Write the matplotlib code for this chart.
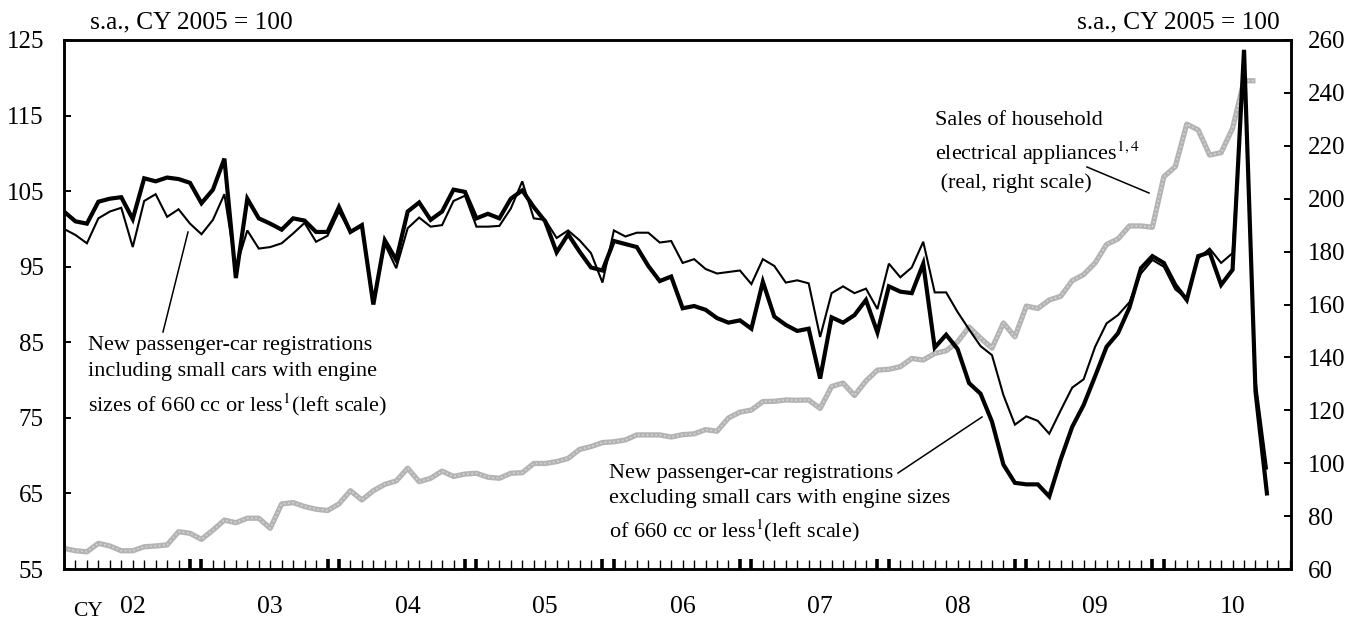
import numpy as np
import matplotlib
matplotlib.use("Agg")
import matplotlib.pyplot as plt

plt.rcParams['font.family'] = ['Liberation Serif', 'DejaVu Serif']
plt.rcParams['mathtext.fontset'] = 'stix'

# ---------------- data (monthly, Jan 2002 onward) ----------------
years = ["02", "03", "04", "05", "06", "07", "08", "09", "10"]

cars_excl = [102.3, 101.0, 100.7, 103.6, 104.0, 104.2, 101.3, 106.7, 106.3, 106.8, 106.6, 106.1,
             103.4, 105.2, 109.3, 93.5, 104.0, 101.4, 100.7, 99.9, 101.4, 101.1, 99.6, 99.6,
             102.9, 99.6, 100.5, 90.0, 98.5, 95.9, 102.3, 103.5, 101.2, 102.3, 105.2, 104.9,
             101.4, 102.0, 101.4, 104.0, 105.1, 102.9, 101.0, 96.9, 99.3, 97.0, 94.9, 94.5,
             98.4, 98.0, 97.6, 95.1, 93.1, 93.7, 89.5, 89.8, 89.3, 88.2, 87.6, 87.9,
             86.8, 93.0, 88.4, 87.3, 86.5, 86.8, 80.2, 88.3, 87.6, 88.6, 90.6, 86.3,
             92.4, 91.7, 91.5, 95.4, 84.3, 86.0, 84.1, 79.6, 78.2, 74.5, 68.8, 66.4,
             66.2, 66.2, 64.6, 69.5, 73.8, 76.7, 80.5, 84.4, 86.2, 89.6, 94.8, 96.4,
             95.5, 92.6, 90.6, 96.4, 96.9, 92.6, 94.6, 123.7, 78.5, 65.0]

cars_incl = [100.0, 99.2, 98.1, 101.4, 102.3, 102.8, 97.6, 103.7, 104.6, 101.6, 102.6, 100.7,
             99.3, 101.2, 104.6, 94.8, 99.8, 97.4, 97.6, 98.1, 99.4, 100.8, 98.3, 99.1,
             102.3, 99.6, 100.3, 90.5, 98.0, 94.8, 100.1, 101.5, 100.3, 100.5, 103.7, 104.4,
             100.3, 100.3, 100.4, 102.7, 106.3, 101.4, 101.2, 98.8, 99.8, 98.5, 96.8, 92.9,
             99.8, 99.0, 99.5, 99.5, 98.2, 98.4, 95.5, 96.0, 94.7, 94.1, 94.3, 94.5,
             92.7, 96.0, 95.1, 92.9, 93.2, 92.8, 85.7, 91.5, 92.4, 91.5, 92.1, 89.4,
             95.4, 93.6, 94.9, 98.3, 91.6, 91.6, 89.0, 86.7, 84.5, 83.3, 78.0, 74.1,
             75.2, 74.6, 72.9, 76.0, 79.0, 80.1, 84.4, 87.5, 88.6, 90.3, 94.1, 95.9,
             95.0, 92.0, 90.8, 96.1, 97.4, 95.5, 96.8, 122.5, 80.0, 68.3]

appliances = [67.8, 66.9, 66.5, 69.7, 68.7, 66.9, 66.9, 68.4, 68.7, 69.1, 74.1, 73.5,
              71.2, 74.7, 78.5, 77.5, 79.2, 79.2, 75.4, 84.6, 85.1, 83.6, 82.6, 82.1,
              84.6, 89.6, 86.1, 89.6, 92.0, 93.3, 98.1, 93.0, 94.3, 97.0, 95.0, 95.9,
              96.2, 94.7, 94.3, 96.2, 96.4, 99.9, 99.9, 100.6, 101.8, 105.2, 106.3, 107.8,
              108.1, 108.8, 110.7, 110.7, 110.7, 109.9, 110.8, 111.1, 112.7, 112.1, 117.1, 119.3,
              120.1, 123.3, 123.4, 123.9, 123.8, 123.9, 120.7, 129.0, 130.3, 125.6, 131.1, 135.2,
              135.5, 136.5, 139.6, 139.0, 141.5, 142.5, 145.9, 151.5, 147.3, 143.5, 153.0, 147.8,
              159.4, 158.5, 161.7, 163.1, 169.0, 171.3, 175.7, 182.7, 184.8, 189.7, 189.7, 189.2,
              208.3, 212.1, 228.2, 226.0, 216.5, 217.4, 226.6, 244.6, 244.6]

left_ticks = [55, 65, 75, 85, 95, 105, 115, 125]
right_ticks = [60, 80, 100, 120, 140, 160, 180, 200, 220, 240, 260]

# ---------------- figure ----------------
W, H = 1361, 619
fig = plt.figure(figsize=(W / 100, H / 100), dpi=100)
L, R, T, B = 64, 1291, 40, 569
ax = fig.add_axes([L / W, 1 - B / H, (R - L) / W, (B - T) / H])
ax2 = ax.twinx()

x_excl = np.arange(len(cars_excl))
x_incl = np.arange(len(cars_incl))
x_app = np.arange(len(appliances))

n_months = 12 * len(years)
ax.set_xlim(0, n_months - 0.9)
ax.set_ylim(left_ticks[0], left_ticks[-1])
ax2.set_ylim(right_ticks[0], right_ticks[-1])

# lines
ax.set_zorder(ax2.get_zorder() + 1)
ax.patch.set_visible(False)
ax2.plot(x_app, appliances, color='#b3b3b3', lw=3.8, solid_capstyle='butt', zorder=2)
ax2.plot(x_app, appliances, color='#d6d6d6', lw=1.2, linestyle=(0, (1, 1.6)), zorder=3)
ax.plot(x_incl, cars_incl, color='black', lw=1.5, zorder=2, solid_joinstyle='miter')
ax.plot(x_excl, cars_excl, color='black', lw=3.0, zorder=3, solid_joinstyle='miter')

# spines
for a in (ax, ax2):
    for s in a.spines.values():
        s.set_linewidth(1.8)

# y ticks
ax.set_yticks(left_ticks)
ax.tick_params(axis='y', direction='in', length=5, width=1.4, pad=14.5, labelsize=18)
ax2.set_yticks(right_ticks)
ax2.tick_params(axis='y', direction='in', length=5, width=1.4, pad=12, labelsize=18)

# x ticks: every month (minor), bold around year boundaries (major)
months = np.arange(0, n_months)
bold = [m for k in range(1, len(years)) for m in (12 * k - 1, 12 * k)]
ax.set_xticks(bold)
ax.set_xticklabels([])
ax.set_xticks(months, minor=True)
ax.tick_params(axis='x', which='major', direction='in', length=7, width=2.6)
ax.tick_params(axis='x', which='minor', direction='in', length=6.5, width=1.0)
ax2.tick_params(axis='x', which='both', bottom=False, top=False)

# year labels
tr = ax.get_xaxis_transform()
for k, yl in enumerate(years):
    ax.text(12 * k + 6, -0.072, yl, transform=tr, ha='center', va='center', fontsize=18.5)
ax.text(0.0195, -0.080, 'CY', transform=ax.transAxes, ha='center', va='center', fontsize=15.5)

# headers
def fx(px):
    return (px - L) / (R - L)

def fy(py):
    return (B - py) / (B - T)

ax.text(fx(90), fy(22), 's.a., CY 2005 = 100', transform=ax.transAxes,
        ha='left', va='center', fontsize=18.3, clip_on=False)
ax.text(fx(1280), fy(22), 's.a., CY 2005 = 100', transform=ax.transAxes,
        ha='right', va='center', fontsize=18.3, clip_on=False)

# annotations
fs = 16
ax.text(fx(88), fy(336),
        'New passenger-car registrations\nincluding small cars with engine\nsizes of 660 cc or less$^{1}$(left scale)',
        transform=ax.transAxes, ha='left', va='top', fontsize=fs, linespacing=1.52)
ax.text(fx(609), fy(464),
        'New passenger-car registrations\nexcluding small cars with engine sizes\nof 660 cc or less$^{1}$(left scale)',
        transform=ax.transAxes, ha='left', va='top', fontsize=fs, linespacing=1.45)
ax.text(fx(935), fy(111),
        'Sales of household\nelectrical appliances$^{1,4}$\n (real, right scale)',
        transform=ax.transAxes, ha='left', va='top', fontsize=fs, linespacing=1.45)

for (x0, y0), (x1, y1) in [((163, 332), (188, 232)),
                           ((898, 473), (982, 417)),
                           ((1087, 167), (1149, 193))]:
    ax.plot([fx(x0), fx(x1)], [fy(y0), fy(y1)], color='black', lw=1.1,
            transform=ax.transAxes, zorder=4)

fig.savefig('out.png', dpi=100)
